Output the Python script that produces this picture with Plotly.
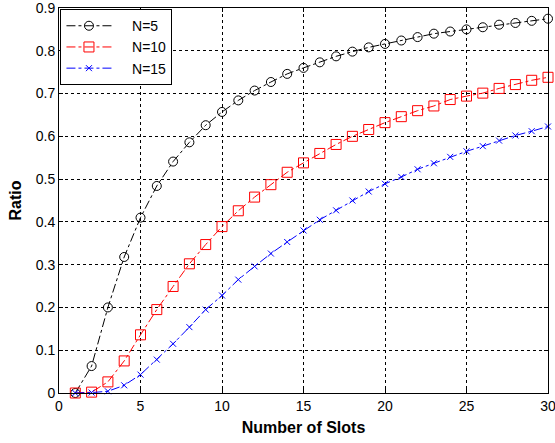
import plotly.graph_objects as go

slots = list(range(1, 31))
ratio_n5 = [0.0, 0.063, 0.200, 0.318, 0.410, 0.484, 0.541, 0.586, 0.626, 0.657,
            0.684, 0.707, 0.727, 0.746, 0.760, 0.773, 0.787, 0.798, 0.808, 0.816,
            0.824, 0.832, 0.840, 0.845, 0.850, 0.855, 0.861, 0.865, 0.870, 0.875]
ratio_n10 = [0.0, 0.002, 0.026, 0.075, 0.136, 0.195, 0.249, 0.302, 0.347, 0.389,
             0.426, 0.458, 0.487, 0.516, 0.538, 0.560, 0.581, 0.600, 0.616, 0.632,
             0.646, 0.660, 0.671, 0.686, 0.694, 0.701, 0.712, 0.721, 0.731, 0.738]
ratio_n15 = [0.0, 0.001, 0.004, 0.018, 0.043, 0.078, 0.115, 0.154, 0.195, 0.228,
             0.265, 0.296, 0.326, 0.353, 0.380, 0.405, 0.427, 0.450, 0.471, 0.489,
             0.505, 0.523, 0.537, 0.552, 0.565, 0.577, 0.590, 0.602, 0.612, 0.623]

x_ticks = [0, 5, 10, 15, 20, 25, 30]
y_ticks = [0, 0.1, 0.2, 0.3, 0.4, 0.5, 0.6, 0.7, 0.8, 0.9]
y_tick_labels = ["0", "0.1", "0.2", "0.3", "0.4", "0.5", "0.6", "0.7", "0.8", "0.9"]

series = [
    ("N=5", ratio_n5, "black", "circle-open", 9),
    ("N=10", ratio_n10, "red", "square-open", 10),
    ("N=15", ratio_n15, "blue", "x-thin-open", 6),
]

fig = go.Figure()
for name, vals, color, sym, size in series:
    fig.add_trace(go.Scatter(
        x=slots, y=vals, name="\u00a0\u00a0\u00a0\u00a0" + name, mode="lines+markers",
        line=dict(color=color, width=1, dash="dashdot"),
        marker=dict(symbol=sym, size=size, color=color,
                    line=dict(color=color, width=1)),
        cliponaxis=False,
    ))

axis_common = dict(
    showline=True, linecolor="black", linewidth=1, mirror="ticks",
    ticks="inside", ticklen=4, tickcolor="black",
    showgrid=True, gridcolor="black", griddash="dot", gridwidth=1,
    zeroline=False, automargin=False, ticklabeloverflow="allow",
    tickfont=dict(family="Liberation Sans, Arial", size=14, color="black"),
)

fig.update_xaxes(range=[0, 30], tickmode="array", tickvals=x_ticks, **axis_common,
                 title=dict(text="<b>Number of Slots</b>", standoff=9,
                            font=dict(family="Liberation Sans, Arial", size=16, color="black")))
fig.update_yaxes(range=[0, 0.9], tickmode="array", tickvals=y_ticks,
                 ticktext=y_tick_labels, **axis_common,
                 title=dict(text="<b>Ratio</b>", standoff=10,
                            font=dict(family="Liberation Sans, Arial", size=16, color="black")))

fig.update_layout(
    width=555, height=443,
    margin=dict(l=59, r=7, t=8, b=50),
    paper_bgcolor="white", plot_bgcolor="white",
    showlegend=True,
    legend=dict(x=0.003, y=0.997, xanchor="left", yanchor="top",
                bgcolor="white", bordercolor="black", borderwidth=1,
                font=dict(family="Liberation Sans, Arial", size=14, color="black"),
                tracegroupgap=0, itemwidth=45),
)

fig.write_html("out.html", config={"displayModeBar": False},
               post_script="document.body.style.margin='0';document.body.style.overflow='hidden';")
